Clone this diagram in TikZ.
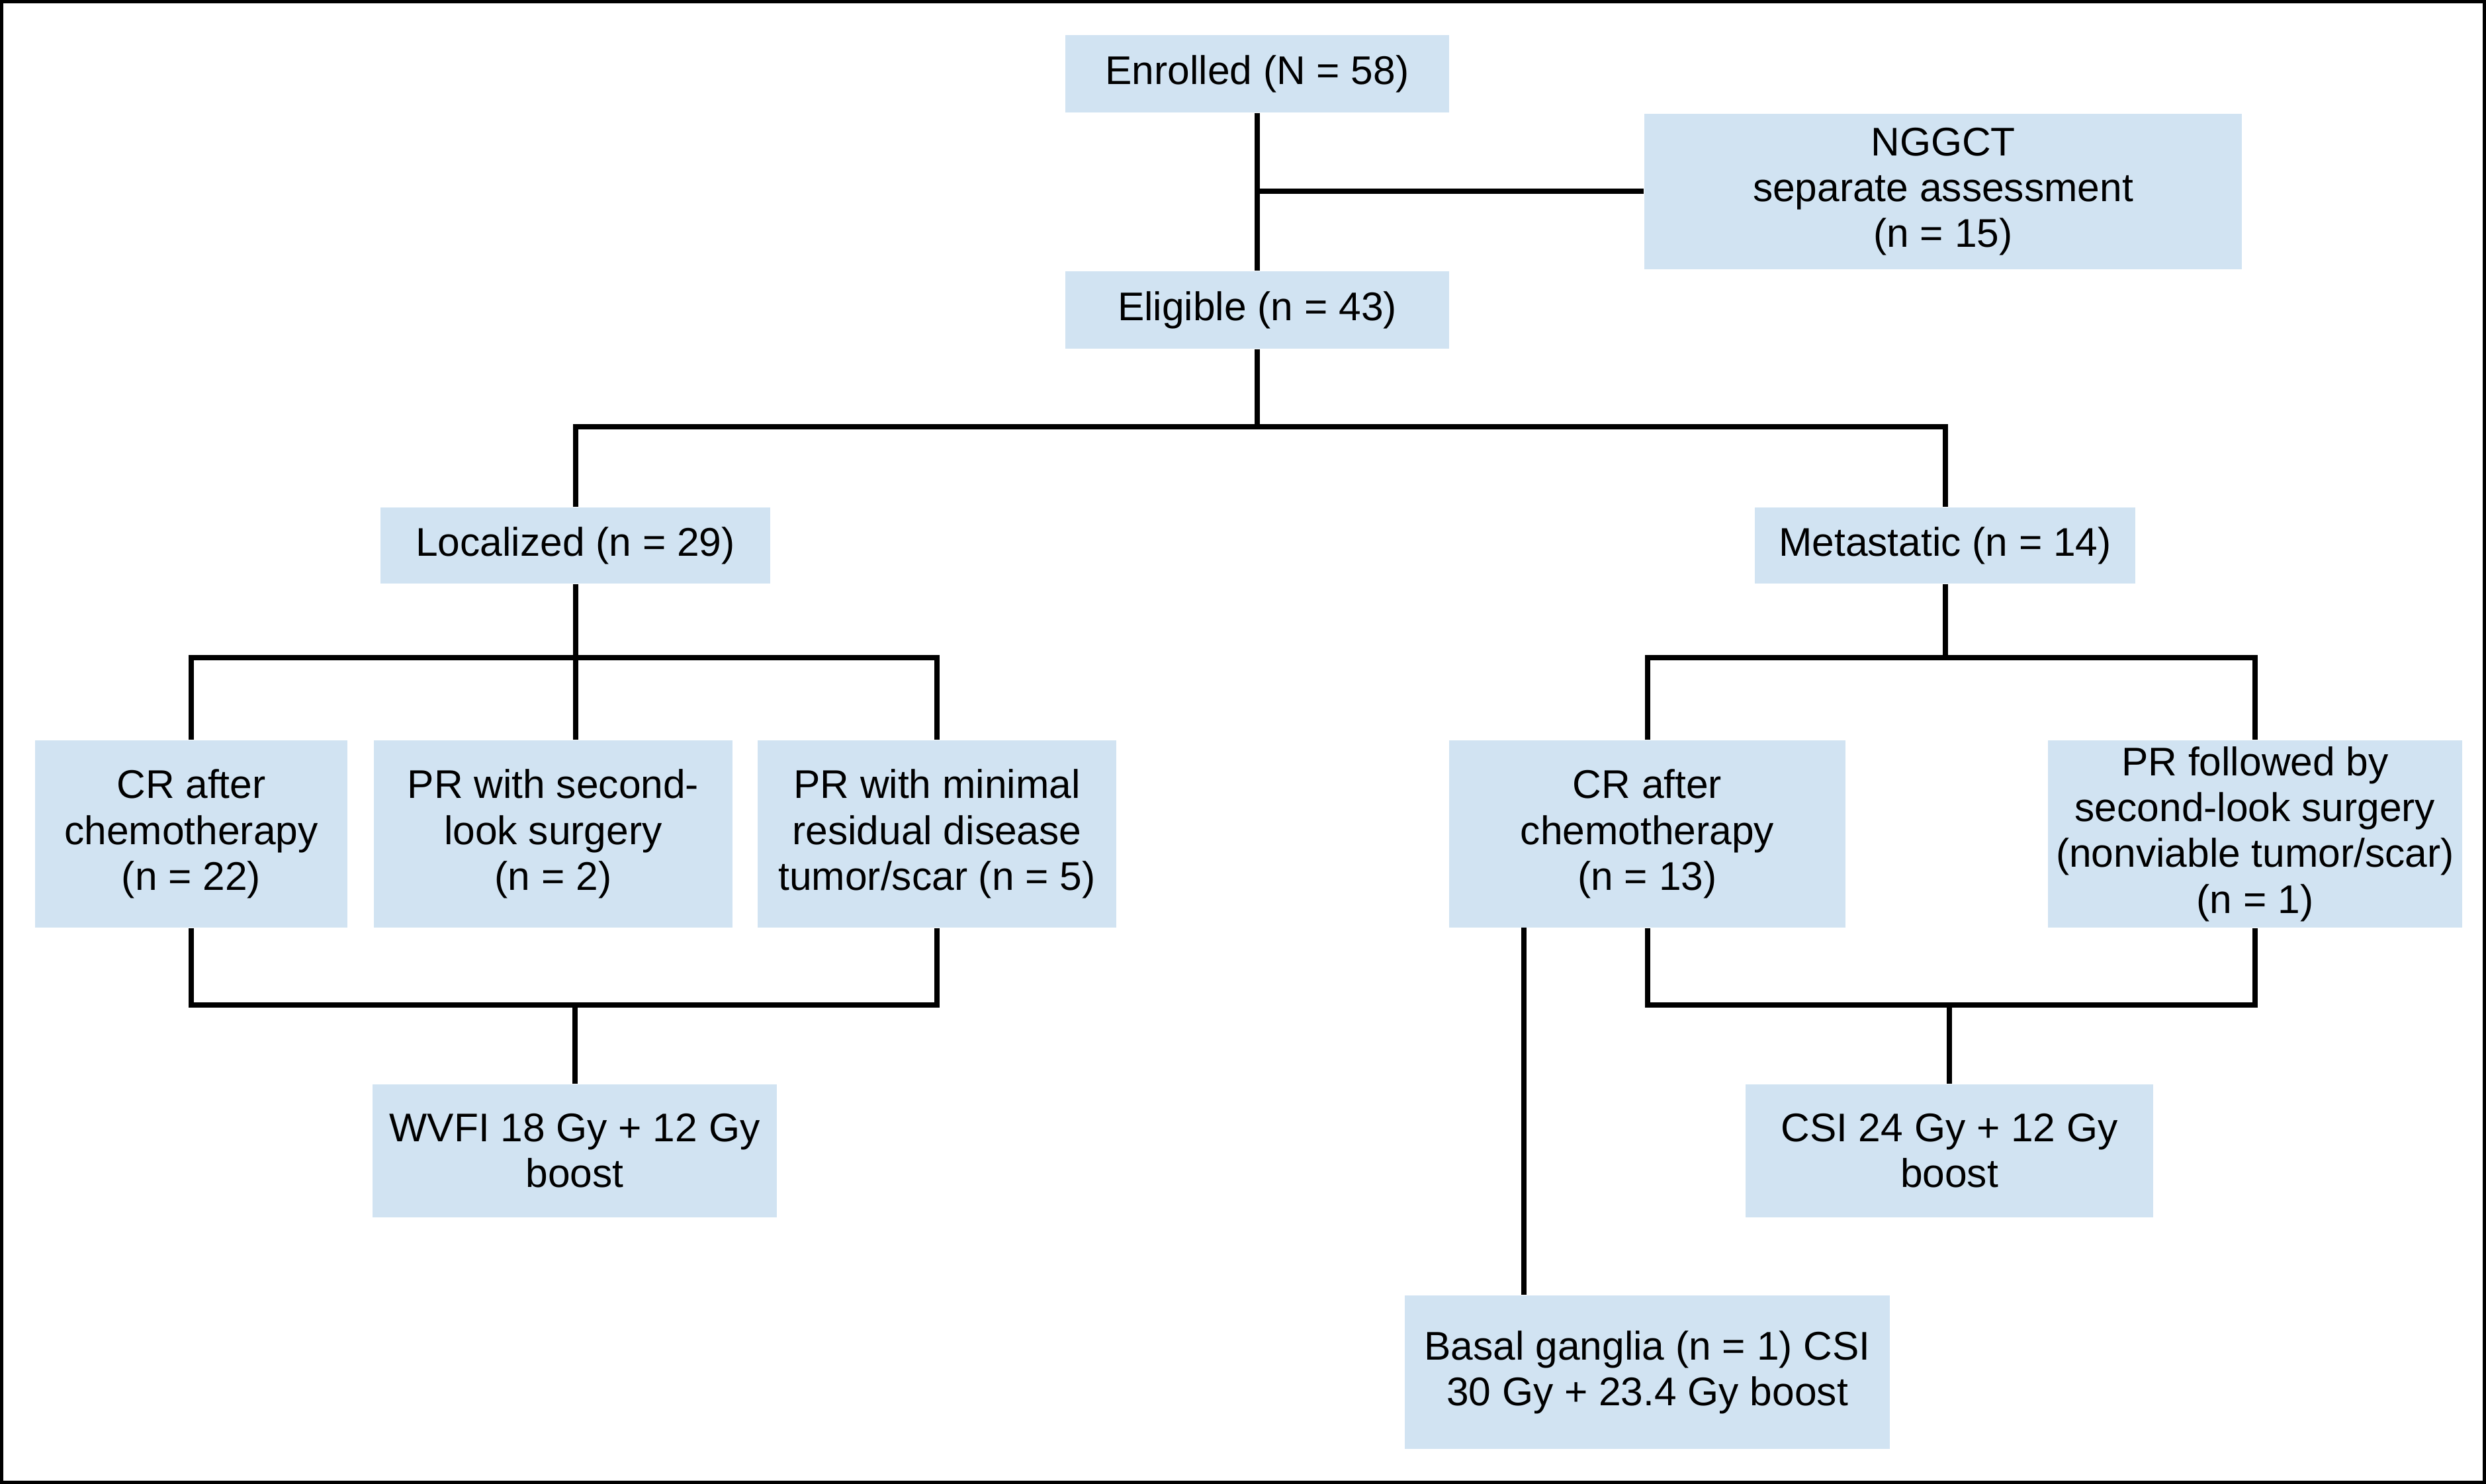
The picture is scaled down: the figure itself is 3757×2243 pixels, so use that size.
\documentclass[tikz,border=0pt]{standalone}
\usepackage{fontspec}
\setmainfont{Liberation Sans}
\definecolor{boxblue}{RGB}{209,227,242}
\begin{document}
\begin{tikzpicture}[x=0.01cm,y=-0.01cm,
  box/.style={fill=boxblue, draw=none, inner sep=0pt, align=center,
    font=\fontsize{17.2pt}{19.7pt}\selectfont},
  conn/.style={line width=0.08cm, line join=miter, black}]
\useasboundingbox (0,0) rectangle (3757,2243);
\draw[line width=0.05cm] (2.5,2.5) rectangle (3754.5,2240.5);

\node[box, minimum width=5.80cm, minimum height=1.17cm] (enr) at (1900,111.5) {Enrolled (N = 58)};
\node[box, minimum width=9.03cm, minimum height=2.35cm] (ngg) at (2936.5,289.5) {NGGCT\\separate assessment\\(n = 15)};
\node[box, minimum width=5.80cm, minimum height=1.17cm] (elig) at (1900,468.5) {Eligible (n = 43)};
\node[box, minimum width=5.89cm, minimum height=1.15cm] (loc) at (869.5,824.5) {Localized (n = 29)};
\node[box, minimum width=5.75cm, minimum height=1.15cm] (met) at (2939.5,824.5) {Metastatic (n = 14)};
\node[box, minimum width=4.72cm, minimum height=2.83cm] (cr1) at (289,1260.5) {CR after\\chemotherapy\\(n = 22)};
\node[box, minimum width=5.42cm, minimum height=2.83cm] (prs) at (836,1260.5) {PR with second-\\look surgery\\(n = 2)};
\node[box, minimum width=5.42cm, minimum height=2.83cm] (prm) at (1416,1260.5) {PR with minimal\\residual disease\\tumor/scar (n = 5)};
\node[box, minimum width=5.99cm, minimum height=2.83cm] (cr2) at (2489.5,1260.5) {CR after\\chemotherapy\\(n = 13)};
\node[box, minimum width=6.25cm, minimum height=2.83cm] (prf) at (3408,1260.5) {PR followed by\\second-look surgery\\(nonviable tumor/scar)\\(n = 1)};
\node[box, minimum width=6.11cm, minimum height=2.01cm] (wvfi) at (868.5,1739.5) {WVFI 18 Gy + 12 Gy\\boost};
\node[box, minimum width=6.16cm, minimum height=2.01cm] (csi) at (2946,1739.5) {CSI 24 Gy + 12 Gy\\boost};
\node[box, minimum width=7.33cm, minimum height=2.32cm] (bas) at (2489.5,2074) {Basal ganglia (n = 1) CSI\\30 Gy + 23.4 Gy boost};

\coordinate (j0) at (1900,289.5);
\coordinate (j1) at (1900,645);
\coordinate (j2) at (869.5,994);
\coordinate (j3) at (2939.5,994);
\coordinate (j4) at (868.5,1519);
\coordinate (j5) at (2946,1519);
\coordinate (b1) at (2303,1402);

\draw[conn] (enr) -- (elig);
\draw[conn] (j0) -- (ngg.west);
\draw[conn] (elig) -- (j1);
\draw[conn] (loc.north) |- (j1) -| (met.north);
\draw[conn] (loc) -- (j2);
\draw[conn] (cr1.north) |- (j2) -| (prm.north);
\draw[conn] (j2) -- (j2 |- prs.north);
\draw[conn] (met) -- (j3);
\draw[conn] (cr2.north) |- (j3) -| (prf.north);
\draw[conn] (cr1.south) |- (j4) -| (prm.south);
\draw[conn] (j4) -- (wvfi.north);
\draw[conn] (cr2.south) |- (j5) -| (prf.south);
\draw[conn] (j5) -- (csi.north);
\draw[conn] (b1) -- (b1 |- bas.north);
\end{tikzpicture}
\end{document}
